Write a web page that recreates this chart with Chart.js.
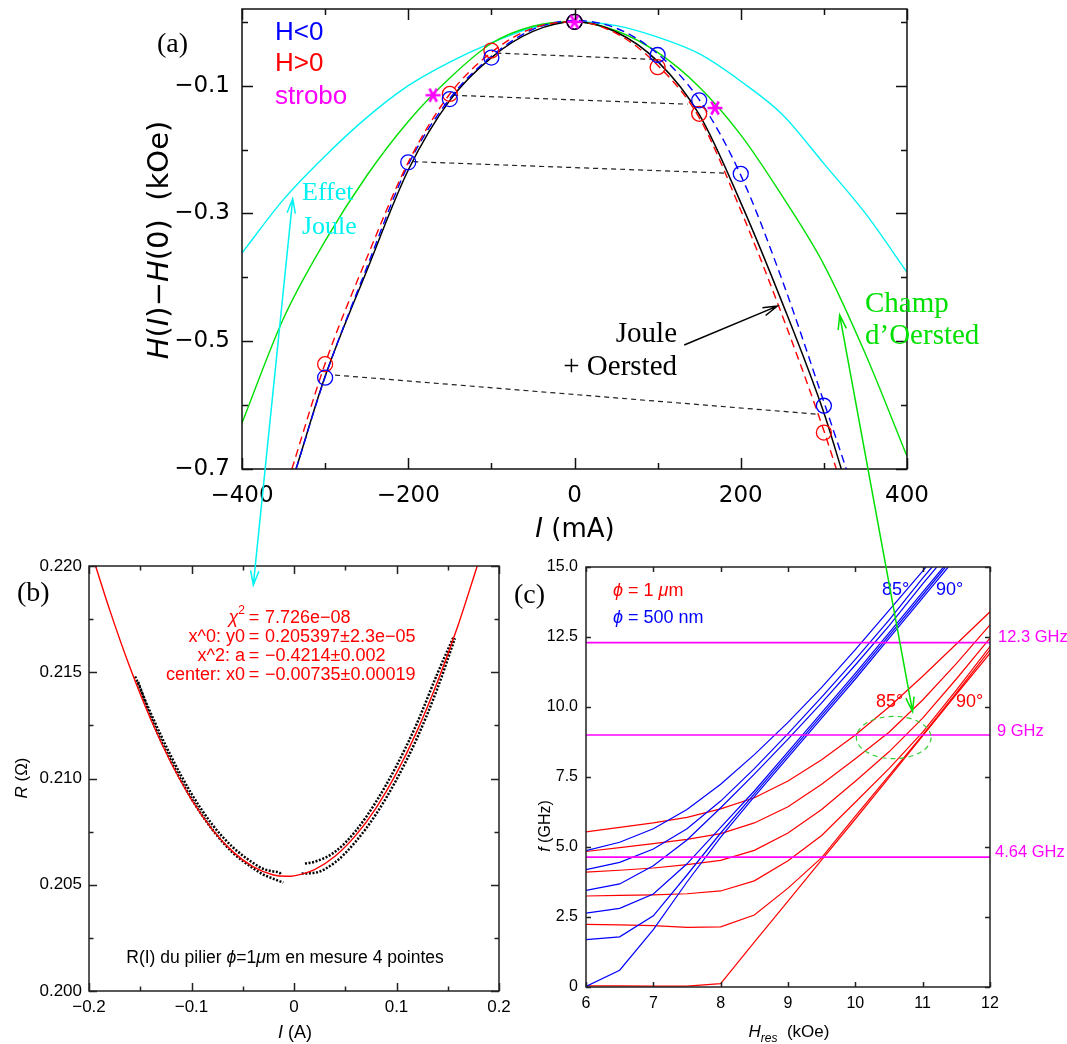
<!DOCTYPE html>
<html><head><meta charset="utf-8"><title>H(I)-H(0)</title>
<script src="https://cdn.jsdelivr.net/npm/chart.js@4.4.1/dist/chart.umd.min.js"></script>
<style>
html,body{margin:0;padding:0;background:#fff;}
body{position:relative;width:1067px;height:1044px;overflow:hidden;}
canvas{position:absolute;}
</style></head><body>
<canvas id="ca" width="1067" height="560" style="left:0;top:0;width:1067px;height:560px"></canvas>
<canvas id="cb" width="540" height="504" style="left:0;top:540px;width:540px;height:504px"></canvas>
<canvas id="cc" width="567" height="504" style="left:500px;top:540px;width:567px;height:504px"></canvas>
<canvas id="ov" width="1067" height="1044" style="left:0;top:0;width:1067px;height:1044px;pointer-events:none"></canvas>
<script>
// ================= DATA =================
// ---- panel (a): H(I)-H(0) (kOe) vs I (mA)
const aXTicks = [-400,-300,-200,-100,0,100,200,300,400];
const aXTickLabels = ['\u2212400','','\u2212200','','0','','200','','400'];
const aYTicks = [-0.7,-0.6,-0.5,-0.4,-0.3,-0.2,-0.1,0];
const aYTickLabels = ['\u22120.7','','\u22120.5','','\u22120.3','','\u22120.1',''];

const aBlueI = [-300,-200,-150,-100,0,100,150,200,300];
const aBlueH = [-0.557,-0.220,-0.121,-0.056,0.0,-0.052,-0.123,-0.238,-0.601];
const aRedI = [-300,-150,-100,0,100,150,300];
const aRedH = [-0.536,-0.113,-0.045,0.0,-0.071,-0.144,-0.643];
const aStroboI = [-170,0,169];
const aStroboH = [-0.115,0.0,-0.135];
const aOriginI = [0];
const aOriginH = [0];

const aLinkFromI = [-94,-146,-194,-288];
const aLinkFromH = [-0.049,-0.115,-0.219,-0.553];
const aLinkToI = [98,136,184,290];
const aLinkToH = [-0.059,-0.129,-0.237,-0.614];

const aJOI = [-335,-300,-250,-200,-150,-100,-50,0,50,100,150,200,250,300,321];
const aJOH = [-0.70,-0.555,-0.39,-0.232,-0.123,-0.056,-0.015,0,-0.016,-0.062,-0.145,-0.283,-0.44,-0.612,-0.70];
const aFitRedI = [-340,-300,-250,-200,-150,-100,-50,0,50,100,150,200,250,300,315];
const aFitRedH = [-0.70,-0.535,-0.37,-0.22,-0.113,-0.048,-0.01,0,-0.018,-0.068,-0.15,-0.295,-0.46,-0.64,-0.70];
const aFitBlueI = [-335,-300,-250,-200,-150,-100,-50,0,50,100,150,200,250,300,327];
const aFitBlueH = [-0.70,-0.556,-0.385,-0.224,-0.12,-0.054,-0.012,0.002,-0.01,-0.05,-0.122,-0.24,-0.405,-0.595,-0.70];
const aCurveI = [-400,-350,-300,-250,-200,-150,-100,-50,0,50,100,150,200,250,300,350,400];
const aOerstedH = [-0.628,-0.464,-0.343,-0.241,-0.156,-0.088,-0.034,-0.007,0,-0.014,-0.048,-0.102,-0.177,-0.273,-0.38,-0.52,-0.68];
const aJouleH = [-0.362,-0.278,-0.21,-0.15,-0.1,-0.063,-0.033,-0.009,0,-0.006,-0.024,-0.05,-0.093,-0.145,-0.222,-0.3,-0.392];

// ---- panel (b): R (Ohm) vs I (A)
const bXTicks = [-0.2,-0.15,-0.1,-0.05,0,0.05,0.1,0.15,0.2];
const bXTickLabels = ['\u22120.2','','\u22120.1','','0','','0.1','','0.2'];
const bYTicks = [0.2,0.2025,0.205,0.2075,0.21,0.2125,0.215,0.2175,0.22];
const bYTickLabels = ['0.200','','0.205','','0.210','','0.215','','0.220'];

const bFitI = [-0.1935,-0.18,-0.16,-0.14,-0.12,-0.10,-0.08,-0.06,-0.04,-0.02,-0.00735,0.0,0.02,0.04,0.06,0.08,0.10,0.12,0.14,0.16,0.179];
const bFitR = [0.21999,0.21796,0.21522,0.21281,0.21074,0.20901,0.20762,0.20657,0.20585,0.20546,0.205397,0.20542,0.20571,0.20634,0.20731,0.20861,0.21025,0.21223,0.21455,0.21720,0.22003];
const bLeftUpI = [-0.155,-0.14,-0.12,-0.10,-0.08,-0.06,-0.04,-0.03,-0.02,-0.014,-0.012];
const bLeftUpR = [0.2148,0.2131,0.21105,0.20928,0.20785,0.20678,0.20603,0.20575,0.20562,0.20556,0.20545];
const bLeftLoI = [-0.152,-0.14,-0.12,-0.10,-0.08,-0.06,-0.04,-0.03,-0.02,-0.0104];
const bLeftLoR = [0.21455,0.21292,0.21082,0.20905,0.20762,0.20652,0.20578,0.20548,0.20528,0.2051];
const bRightUpI = [0.0107,0.02,0.04,0.06,0.08,0.10,0.12,0.14,0.156];
const bRightUpR = [0.2060,0.20608,0.20655,0.20752,0.2089,0.2106,0.2126,0.21495,0.2167];
const bRightLoI = [0.0075,0.02,0.04,0.06,0.08,0.10,0.12,0.14,0.157];
const bRightLoR = [0.20553,0.20556,0.20605,0.20702,0.20832,0.20995,0.2119,0.21425,0.2166];

// ---- panel (c): f (GHz) vs H_res (kOe)
const cXTicks = [6,7,8,9,10,11,12];
const cXTickLabels = ['6','7','8','9','10','11','12'];
const cYTicks = [0,2.5,5,7.5,10,12.5,15];
const cYTickLabels = ['0','2.5','5.0','7.5','10.0','12.5','15.0'];

const cRedH = [6,6.5,7,7.5,8,8.5,9,9.5,10,10.5,11,11.5,12];
const cRed1 = [5.54,5.70,5.86,6.06,6.36,6.76,7.36,8.12,9.0,10.0,11.1,12.25,13.4];
const cRed2 = [4.84,4.98,5.12,5.27,5.48,5.86,6.44,7.24,8.15,9.1,10.25,11.55,12.93];
const cRed3 = [4.10,4.17,4.25,4.37,4.52,4.88,5.50,6.34,7.35,8.4,9.6,11.0,12.46];
const cRed4 = [3.25,3.27,3.29,3.33,3.43,3.79,4.51,5.41,6.6,7.8,9.1,10.6,12.16];
const cRed5 = [2.24,2.22,2.19,2.13,2.15,2.57,3.53,4.62,6.1,7.55,9.0,10.5,12.04];
const cRed6 = [0.04,0.04,0.03,0.03,0.12,1.6,3.07,4.54,6.0,7.48,8.97,10.45,11.92];

const cBlueH = [6,6.5,7,7.5,8,8.5,9,9.5,10,10.5,11];
const cBlue1 = [4.87,5.17,5.65,6.34,7.24,8.3,9.45,10.7,12.05,13.45,14.85];
const cBlue2 = [4.19,4.45,4.93,5.65,6.64,7.8,9.05,10.35,11.7,13.1,14.6];
const cBlue3 = [3.45,3.68,4.33,5.25,6.4,7.6,8.85,10.15,11.5,12.9,14.4];
const cBlue4 = [2.64,2.81,3.32,4.4,5.7,7.0,8.4,9.8,11.2,12.65,14.1];
const cBlue5 = [1.69,1.79,2.54,4.0,5.5,6.9,8.3,9.7,11.1,12.55,14.0];
const cBlue6 = [0.02,0.6,2.05,3.75,5.35,6.8,8.2,9.6,11.0,12.45,13.9];
const cBlueTopH = [11.05,11.14,11.21,11.31,11.34,11.38];
const cBlueTopF = 15;

const cFreqLines = [12.3, 9, 4.64];
const cFreqLabels = ['12.3 GHz','9 GHz','4.64 GHz'];

// annotation anchors (data units of the panel they sit in)
const arrowCyanTopA = [-339, -0.277];
const arrowCyanBottomB = [-0.0397, 0.2191];
const arrowGreenTopA = [319, -0.459];
const arrowGreenBottomC = [10.85, 9.84];
const arrowBlackFromA = [132, -0.506];
const arrowBlackToA = [244, -0.445];
const ellipseC = [10.57, 8.91, 0.555, 0.755];

// ================= STYLE / HELPERS =================
const BLUE='#0000ff', RED='#ff0000', MAG='#ff00ff', CYAN='#00f2f2', GREEN='#00e000', BLACK='#000000';
const SANS='"Liberation Sans"', DEJA='"DejaVu Sans"', SERIF='"Liberation Serif"';

function pts(xs, ys){ return xs.map((x,i)=>({x:x, y:ys[i]})); }

function asterisk(color, size, lw){
  const c=document.createElement('canvas'); c.width=c.height=size;
  const g=c.getContext('2d'); g.strokeStyle=color; g.lineWidth=lw; g.lineCap='butt';
  const r=size/2-0.5, m=size/2;
  g.beginPath();
  for(let k=0;k<3;k++){ const a=k*Math.PI/3; g.moveTo(m+r*Math.cos(a), m+r*Math.sin(a)); g.lineTo(m-r*Math.cos(a), m-r*Math.sin(a)); }
  g.stroke(); return c;
}

function drawRuns(ctx, runs, x, y, align, color, rot){
  ctx.save();
  ctx.translate(x, y);
  if (rot) ctx.rotate(rot);
  ctx.textBaseline='middle'; ctx.textAlign='left';
  let w=0;
  for (const r of runs){ ctx.font=r.f; w+=ctx.measureText(r.t).width; }
  let cx = align==='center' ? -w/2 : (align==='right' ? -w : 0);
  for (const r of runs){ ctx.font=r.f; ctx.fillStyle=r.c||color; ctx.fillText(r.t, cx, r.dy||0); cx+=ctx.measureText(r.t).width; }
  ctx.restore();
}

function makeFramePlugin(id, cfg){
  return {
    id: id,
    afterDatasetsDraw(chart){
      const ctx=chart.ctx, a=chart.chartArea, xs=chart.scales.x, ys=chart.scales.y;
      ctx.save();
      ctx.strokeStyle=cfg.color; ctx.lineWidth=cfg.lw; ctx.setLineDash([]);
      ctx.strokeRect(a.left, a.top, a.right-a.left, a.bottom-a.top);
      ctx.beginPath();
      xs.ticks.forEach((t,i)=>{
        const p=Math.round(xs.getPixelForValue(t.value))+0.5;
        const L=cfg.xLab[i] ? cfg.maj : cfg.min;
        ctx.moveTo(p, a.bottom); ctx.lineTo(p, a.bottom-L);
        ctx.moveTo(p, a.top); ctx.lineTo(p, a.top+L);
      });
      ys.ticks.forEach((t,i)=>{
        const p=Math.round(ys.getPixelForValue(t.value))+0.5;
        const L=cfg.yLab[i] ? cfg.maj : cfg.min;
        ctx.moveTo(a.left, p); ctx.lineTo(a.left+L, p);
        ctx.moveTo(a.right, p); ctx.lineTo(a.right-L, p);
      });
      ctx.stroke();
      ctx.restore();
      if (cfg.extra) cfg.extra(chart);
      ctx.save();
      for (const it of cfg.texts){
        drawRuns(ctx, it.runs, it.x-cfg.off[0], it.y-cfg.off[1], it.align||'left', it.c||'#000', it.rot||0);
      }
      ctx.restore();
    }
  };
}

function axisOpts(min, max, ticks, labels, fitKey, fitVal, pad, font){
  return {
    type:'linear', min:min, max:max,
    afterBuildTicks: s => { s.ticks = ticks.map(v => ({value:v})); },
    afterFit: s => {
      s[fitKey]=fitVal;
      s.paddingLeft=0; s.paddingRight=0; s.paddingTop=0; s.paddingBottom=0;
    },
    grid:{display:false, drawTicks:false},
    border:{display:false},
    ticks:{autoSkip:false, maxRotation:0, minRotation:0, padding:pad, color:'#000', font:font,
           callback:(v,i)=>labels[i]}
  };
}

function baseOptions(pad, xAxis, yAxis){
  return {
    responsive:false, animation:false, events:[],
    layout:{padding:pad},
    plugins:{legend:{display:false}, tooltip:{enabled:false}},
    scales:{x:xAxis, y:yAxis}
  };
}

function lineDs(data, color, width, dash, smooth){
  return {data:data, showLine:true, borderColor:color, borderWidth:width, borderDash:dash||[],
          pointRadius:0, pointHoverRadius:0, fill:false,
          cubicInterpolationMode: smooth ? 'monotone' : 'default', tension:0};
}
function circleDs(data, color){
  return {data:data, showLine:false, pointStyle:'circle', pointRadius:7.5, pointHoverRadius:7.5,
          pointBorderColor:color, pointBackgroundColor:'rgba(0,0,0,0)', pointBorderWidth:1.3};
}

// ================= PANEL (a) =================
const fA = (s,st)=> (st||'')+' '+s+'px '+DEJA;
const starImg = asterisk(MAG, 16, 2.6);
const dsA = [
  {data:pts(aStroboI,aStroboH), showLine:false, pointStyle:starImg, pointRadius:8},
  circleDs(pts(aOriginI,aOriginH), BLACK),
  circleDs(pts(aBlueI,aBlueH), BLUE),
  circleDs(pts(aRedI,aRedH), RED),
];
for (let k=0;k<aLinkFromI.length;k++){
  dsA.push(lineDs([{x:aLinkFromI[k],y:aLinkFromH[k]},{x:aLinkToI[k],y:aLinkToH[k]}], '#222', 1.2, [5,4], false));
}
dsA.push(lineDs(pts(aFitRedI,aFitRedH), RED, 1.4, [8,5], true));
dsA.push(lineDs(pts(aFitBlueI,aFitBlueH), BLUE, 1.4, [8,5], true));
dsA.push(lineDs(pts(aJOI,aJOH), BLACK, 1.5, [], true));
dsA.push(lineDs(pts(aCurveI,aOerstedH), GREEN, 1.4, [], true));
dsA.push(lineDs(pts(aCurveI,aJouleH), CYAN, 1.4, [], true));

const textsA = [
  {runs:[{t:'(a)', f:'28px '+SERIF}], x:157, y:45},
  {runs:[{t:'H<0', f:'26px '+SANS}], x:275, y:33, c:BLUE},
  {runs:[{t:'H>0', f:'26px '+SANS}], x:275, y:64, c:RED},
  {runs:[{t:'strobo', f:'26px '+SANS}], x:275, y:97, c:MAG},
  {runs:[{t:'Effet', f:'26px '+SERIF}], x:302, y:193, c:CYAN},
  {runs:[{t:'Joule', f:'26px '+SERIF}], x:302, y:227, c:CYAN},
  {runs:[{t:'Joule', f:'29px '+SERIF}], x:677, y:334, align:'right'},
  {runs:[{t:'+ Oersted', f:'29px '+SERIF}], x:677, y:367, align:'right'},
  {runs:[{t:'Champ', f:'29px '+SERIF}], x:865, y:304, c:GREEN},
  {runs:[{t:'d\u2019Oersted', f:'29px '+SERIF}], x:865, y:336, c:GREEN},
  {runs:[{t:'H',f:fA(29,'italic')},{t:'(',f:fA(29)},{t:'I',f:fA(29,'italic')},{t:')\u2212',f:fA(29)},{t:'H',f:fA(29,'italic')},{t:'(0)  (kOe)',f:fA(29)}], x:160, y:240, align:'center', rot:-Math.PI/2},
  {runs:[{t:'I',f:fA(26,'italic')},{t:' (mA)',f:fA(26)}], x:575, y:530, align:'center'},
];
const chartA = new Chart(document.getElementById('ca'), {
  type:'scatter',
  data:{datasets:dsA},
  options: baseOptions({left:0, top:8, right:160, bottom:0},
    axisOpts(-400, 400, aXTicks, aXTickLabels, 'height', 91, 13, {family:'DejaVu Sans', size:23}),
    axisOpts(-0.7, 0.02, aYTicks, aYTickLabels, 'width', 242, 12, {family:'DejaVu Sans', size:23})),
  plugins:[makeFramePlugin('frameA', {color:'#111', lw:1.5, maj:11, min:6, xLab:aXTickLabels, yLab:aYTickLabels, off:[0,0], texts:textsA})]
});

// ================= PANEL (b) =================
const fB = (s,st)=> (st||'')+' '+s+'px '+SANS;
const dotted = (d)=>lineDs(d, BLACK, 2.5, [2,1.6], true);
const dsB = [
  lineDs(pts(bFitI,bFitR), RED, 1.4, [], true),
  dotted(pts(bLeftUpI,bLeftUpR)),
  dotted(pts(bLeftLoI,bLeftLoR)),
  dotted(pts(bRightUpI,bRightUpR)),
  dotted(pts(bRightLoI,bRightLoR)),
];
const statF = fB(18);
const textsB = [
  {runs:[{t:'(b)', f:'28px '+SERIF}], x:17, y:594},
  {runs:[{t:'\u03c7',f:fB(18,'italic')},{t:'2',f:fB(12),dy:-7}], x:245, y:618, align:'right', c:RED},
  {runs:[{t:'x^0: y0',f:statF}], x:245, y:637, align:'right', c:RED},
  {runs:[{t:'x^2: a',f:statF}], x:245, y:656, align:'right', c:RED},
  {runs:[{t:'center: x0',f:statF}], x:245, y:675, align:'right', c:RED},
  {runs:[{t:'=',f:statF}], x:254, y:618, align:'center', c:RED},
  {runs:[{t:'=',f:statF}], x:254, y:637, align:'center', c:RED},
  {runs:[{t:'=',f:statF}], x:254, y:656, align:'center', c:RED},
  {runs:[{t:'=',f:statF}], x:254, y:675, align:'center', c:RED},
  {runs:[{t:'7.726e\u221208',f:statF}], x:265, y:618, c:RED},
  {runs:[{t:'0.205397\u00b12.3e\u221205',f:statF}], x:265, y:637, c:RED},
  {runs:[{t:'\u22120.4214\u00b10.002',f:statF}], x:265, y:656, c:RED},
  {runs:[{t:'\u22120.00735\u00b10.00019',f:statF}], x:265, y:675, c:RED},
  {runs:[{t:'R(I) du pilier ',f:fB(17.5)},{t:'\u03d5',f:fB(17.5,'italic')},{t:'=1',f:fB(17.5)},{t:'\u03bc',f:fB(17.5,'italic')},{t:'m en mesure 4 pointes',f:fB(17.5)}], x:285, y:958, align:'center'},
  {runs:[{t:'R',f:fB(17,'italic')},{t:' (\u03a9)',f:fB(17)}], x:22, y:778, align:'center', rot:-Math.PI/2},
  {runs:[{t:'I',f:fB(18,'italic')},{t:' (A)',f:fB(18)}], x:295, y:1033, align:'center'},
];
const chartB = new Chart(document.getElementById('cb'), {
  type:'scatter',
  data:{datasets:dsB},
  options: baseOptions({left:0, top:26, right:41, bottom:0},
    axisOpts(-0.2, 0.2, bXTicks, bXTickLabels, 'height', 53, 6, {family:'Liberation Sans', size:17}),
    axisOpts(0.2, 0.22, bYTicks, bYTickLabels, 'width', 89, 7, {family:'Liberation Sans', size:17})),
  plugins:[makeFramePlugin('frameB', {color:'#222', lw:1.5, maj:8, min:4.5, xLab:bXTickLabels, yLab:bYTickLabels, off:[0,540], texts:textsB})]
});

// ================= PANEL (c) =================
const fC = (s,st)=> (st||'')+' '+s+'px '+SANS;
const dsC = [];
cFreqLines.forEach(f => dsC.push(lineDs([{x:6,y:f},{x:12,y:f}], MAG, 1.6, [], false)));
[cBlue1,cBlue2,cBlue3,cBlue4,cBlue5,cBlue6].forEach((arr,k)=>{
  const d = pts(cBlueH, arr); d.push({x:cBlueTopH[k], y:cBlueTopF});
  dsC.push(lineDs(d, BLUE, 1.2, [], false));
});
[cRed1,cRed2,cRed3,cRed4,cRed5,cRed6].forEach(arr=> dsC.push(lineDs(pts(cRedH, arr), RED, 1.2, [], false)));

const textsC = [
  {runs:[{t:'(c)', f:'28px '+SERIF}], x:514, y:596},
  {runs:[{t:'\u03d5',f:fC(18,'italic')},{t:' = 1 ',f:fC(18)},{t:'\u03bc',f:fC(18,'italic')},{t:'m',f:fC(18)}], x:613, y:591, c:RED},
  {runs:[{t:'\u03d5',f:fC(18,'italic')},{t:' = 500 nm',f:fC(18)}], x:613, y:618, c:BLUE},
  {runs:[{t:'85\u00b0',f:fC(18)}], x:882, y:590, c:BLUE},
  {runs:[{t:'90\u00b0',f:fC(18)}], x:936, y:590, c:BLUE},
  {runs:[{t:'85\u00b0',f:fC(18)}], x:876, y:702, c:RED},
  {runs:[{t:'90\u00b0',f:fC(18)}], x:956, y:702, c:RED},
  {runs:[{t:cFreqLabels[0],f:fC(16.5)}], x:998, y:637, c:MAG},
  {runs:[{t:cFreqLabels[1],f:fC(16.5)}], x:997, y:731, c:MAG},
  {runs:[{t:cFreqLabels[2],f:fC(16.5)}], x:995, y:852, c:MAG},
  {runs:[{t:'f',f:fC(16,'italic')},{t:' (GHz)',f:fC(16)}], x:546, y:826, align:'center', rot:-Math.PI/2},
  {runs:[{t:'H',f:fC(17,'italic')},{t:'res',f:fC(12,'italic'),dy:7},{t:'  (kOe)',f:fC(17)}], x:789, y:1032, align:'center'},
];
function drawEllipse(chart){
  const ctx=chart.ctx, xs=chart.scales.x, ys=chart.scales.y;
  const cx=xs.getPixelForValue(ellipseC[0]), cy=ys.getPixelForValue(ellipseC[1]);
  const rx=xs.getPixelForValue(ellipseC[0]+ellipseC[2])-cx, ry=cy-ys.getPixelForValue(ellipseC[1]+ellipseC[3]);
  ctx.save(); ctx.strokeStyle='#33cc33'; ctx.lineWidth=1.2; ctx.setLineDash([5,4]);
  ctx.beginPath(); ctx.ellipse(cx,cy,rx,ry,0,0,Math.PI*2); ctx.stroke(); ctx.restore();
}
const chartC = new Chart(document.getElementById('cc'), {
  type:'scatter',
  data:{datasets:dsC},
  options: baseOptions({left:0, top:27, right:77, bottom:0},
    axisOpts(6, 12, cXTicks, cXTickLabels, 'height', 57, 7, {family:'Liberation Sans', size:16}),
    axisOpts(0, 15, cYTicks, cYTickLabels, 'width', 86, 8, {family:'Liberation Sans', size:16})),
  plugins:[makeFramePlugin('frameC', {color:'#222', lw:1.5, maj:5, min:5, xLab:cXTickLabels, yLab:cYTickLabels, off:[500,540], texts:textsC, extra:drawEllipse})]
});

// ================= cross-panel arrows =================
function pagePt(chart, off, p){ return [off[0]+chart.scales.x.getPixelForValue(p[0]), off[1]+chart.scales.y.getPixelForValue(p[1])]; }
function head(g, tip, from, len, ang){
  const a=Math.atan2(tip[1]-from[1], tip[0]-from[0]);
  g.moveTo(tip[0]-len*Math.cos(a-ang), tip[1]-len*Math.sin(a-ang));
  g.lineTo(tip[0], tip[1]);
  g.lineTo(tip[0]-len*Math.cos(a+ang), tip[1]-len*Math.sin(a+ang));
}
function arrow(g, p0, p1, color, both){
  g.save(); g.strokeStyle=color; g.lineWidth=1.5; g.lineJoin='miter';
  g.beginPath(); g.moveTo(p0[0],p0[1]); g.lineTo(p1[0],p1[1]);
  head(g, p1, p0, 15, 0.28);
  if (both) head(g, p0, p1, 15, 0.28);
  g.stroke(); g.restore();
}
const ov = document.getElementById('ov').getContext('2d');
arrow(ov, pagePt(chartB,[0,540],arrowCyanBottomB), pagePt(chartA,[0,0],arrowCyanTopA), CYAN, true);
arrow(ov, pagePt(chartC,[500,540],arrowGreenBottomC), pagePt(chartA,[0,0],arrowGreenTopA), GREEN, true);
arrow(ov, pagePt(chartA,[0,0],arrowBlackFromA), pagePt(chartA,[0,0],arrowBlackToA), BLACK, false);
</script>
</body></html>
